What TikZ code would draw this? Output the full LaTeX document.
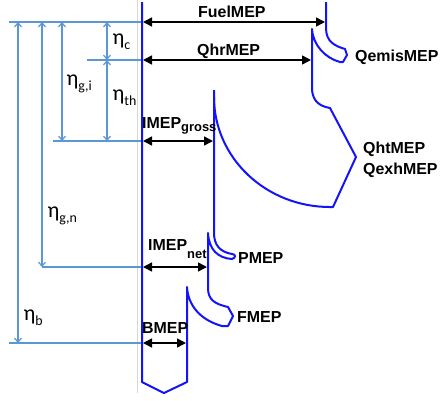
\documentclass[tikz,border=0pt]{standalone}
\usepackage{fontspec}
\setmainfont{Liberation Sans}
\newfontfamily\etafont{Carlito}
\usetikzlibrary{arrows.meta}
\definecolor{sankey}{RGB}{20,20,250}
\definecolor{dimblue}{RGB}{91,150,213}
\definecolor{guide}{RGB}{215,215,215}
\newcommand{\etasub}[1]{η\raisebox{-5bp}{\fontsize{14}{14}\selectfont #1}}
\begin{document}
\begin{tikzpicture}[x=1bp,y=-1bp,line join=round,
  flow/.style={draw=sankey,line width=2bp},
  mep/.style={black,line width=1.5bp,{Triangle[length=9bp,width=9bp]}-{Triangle[length=9bp,width=9bp]}},
  eff/.style={dimblue,line width=1.2bp,{Straight Barb[length=4bp,width=7bp]}-{Straight Barb[length=4bp,width=7bp]}},
  refl/.style={dimblue,line width=1.2bp},
  lab/.style={font=\fontsize{16}{16}\selectfont\bfseries,inner sep=0pt,anchor=base west},
  etal/.style={font=\etafont\fontsize{22}{22}\selectfont,inner sep=0pt,anchor=base west}]
\useasboundingbox (0,0) rectangle (441,400);
% guide line
\coordinate (gtop) at (137.5,0);
\coordinate (gbot) at (137.5,393);
\draw[guide,line width=1bp] (gtop) -- (gbot);
% reference levels
\coordinate (l1a) at (9,22);   \coordinate (l1b) at (142,22);
\coordinate (l2a) at (87,60);  \coordinate (l2b) at (142,60);
\coordinate (l3a) at (53,141); \coordinate (l3b) at (142,141);
\coordinate (l4a) at (42,267); \coordinate (l4b) at (142,267);
\coordinate (l5a) at (9,343);  \coordinate (l5b) at (142,343);
\draw[refl] (l1a) -- (l1b);
\draw[refl] (l2a) -- (l2b);
\draw[refl] (l3a) -- (l3b);
\draw[refl] (l4a) -- (l4b);
\draw[refl] (l5a) -- (l5b);
% efficiency arrows
\coordinate (eb1) at (18,22);  \coordinate (eb2) at (18,343);
\coordinate (en1) at (42,22);  \coordinate (en2) at (42,267);
\coordinate (ei1) at (62,22);  \coordinate (ei2) at (62,141);
\coordinate (ec1) at (107,22); \coordinate (ec2) at (107,60);
\coordinate (et2) at (107,141);
\draw[eff] (eb1) -- (eb2);
\draw[eff] (en1) -- (en2);
\draw[eff] (ei1) -- (ei2);
\draw[eff] (ec1) -- (ec2);
\draw[eff] (ec2) -- (et2);
\node[etal] (etac) at (112.5,44.5) {\etasub{c}};
\node[etal] (etath) at (112.5,100.5) {\etasub{th}};
\node[etal] (etagi) at (66.5,85.5) {\etasub{g,i}};
\node[etal] (etagn) at (47.5,217.5) {\etasub{g,n}};
\node[etal] (etab) at (23.5,320.5) {\etasub{b}};
% sankey outline
\draw[flow] (142,2) -- (142,382) -- (164,393) -- (187,382) -- (187,287)
  .. controls (188,305) and (200,320) .. (222,326) -- (228,326) -- (233,316) -- (228,307)
  .. controls (215,304) and (208,300) .. (208,288) -- (208,233)
  .. controls (209,250) and (218,258) .. (232,259)
  .. controls (236,258) and (236,254) .. (232,254)
  .. controls (220,252) and (214,245) .. (214,233) -- (214,90);
\draw[flow] (214,97) .. controls (214,158) and (266,207) .. (330,207) -- (333,207) -- (356,157) -- (330,108)
  .. controls (318,106) and (313,100) .. (312,90) -- (312,29)
  .. controls (313,45) and (325,58) .. (340,62) -- (343,62) -- (347,55) -- (345,49)
  .. controls (335,46) and (326,42) .. (326,28) -- (326,2);
% MEP arrows
\coordinate (fa) at (143,22);  \coordinate (fb) at (325,22);
\coordinate (qa) at (143,60);  \coordinate (qb) at (311,60);
\coordinate (ga) at (143,141); \coordinate (gb) at (213,141);
\coordinate (na) at (143,267); \coordinate (nb) at (207,267);
\coordinate (ba) at (143,343); \coordinate (bb) at (186,343);
\draw[mep] (fa) -- (fb);
\draw[mep] (qa) -- (qb);
\draw[mep] (ga) -- (gb);
\draw[mep] (na) -- (nb);
\draw[mep] (ba) -- (bb);
% labels
\node[lab] (fuel) at (198,17.5) {FuelMEP};
\node[lab] (qhr) at (197,55) {QhrMEP};
\node[lab] (qemis) at (355,61) {QemisMEP};
\node[lab] (qht) at (363,153) {QhtMEP};
\node[lab] (qexh) at (363,174) {QexhMEP};
\node[lab] (imepg) at (142,128) {IMEP\raisebox{-3.5bp}{\fontsize{13}{13}\selectfont gross}};
\node[lab] (imepn) at (148,250) {IMEP\raisebox{-8bp}{\fontsize{13}{13}\selectfont net}};
\node[lab] (pmep) at (238,263) {PMEP};
\node[lab] (fmep) at (237,322) {FMEP};
\node[lab] (bmep) at (142,333) {BMEP};
\end{tikzpicture}
\end{document}
